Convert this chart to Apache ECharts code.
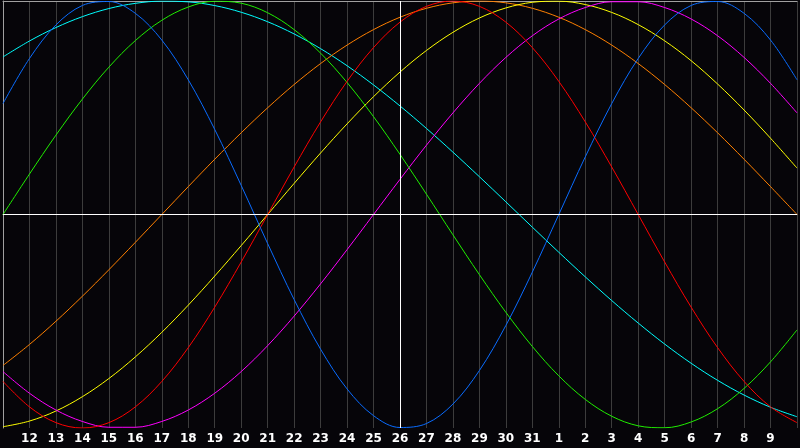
<!DOCTYPE html>
<html>
<head>
<meta charset="utf-8">
<title>biorhythm</title>
<script src="https://cdn.jsdelivr.net/npm/echarts@6/dist/echarts.min.js"></script>
<style>
	html, body { margin: 0; padding: 0; background: #060509; }
	#main { width: 800px; height: 448px; }
</style>
</head>
<body>
<div id="main"></div>
<script type="text/javascript">
// days on the axis (first and last are not labelled)
var days = ['11','12','13','14','15','16','17','18','19','20','21','22','23','24','25','26',
	'27','28','29','30','31','1','2','3','4','5','6','7','8','9','10'];
// today = 26
var todayIndex = 15;

// curves, one value per day
var blue23 = [0.5196,0.7308,0.8879,0.9791,0.9977,0.9423,0.8170,0.6310,0.3984,0.1362,-0.1362,-0.3984,
	-0.6310,-0.8170,-0.9423,-0.9977,-0.9791,-0.8879,-0.7308,-0.5196,-0.2698,0,0.2698,0.5196,0.7308,
	0.8879,0.9791,0.9977,0.9423,0.8170,0.6310];
var red28 = [-0.7818,-0.9010,-0.9749,-1,-0.9749,-0.9010,-0.7818,-0.6235,-0.4339,-0.2225,0,0.2225,
	0.4339,0.6235,0.7818,0.9010,0.9749,1,0.9749,0.9010,0.7818,0.6235,0.4339,0.2225,0,-0.2225,
	-0.4339,-0.6235,-0.7818,-0.9010,-0.9749];
var green33 = [0,0.1893,0.3717,0.5406,0.6901,0.8146,0.9096,0.9718,0.9989,0.9898,0.9450,0.8660,
	0.7557,0.6182,0.4582,0.2817,0.0951,-0.0951,-0.2817,-0.4582,-0.6182,-0.7557,-0.8660,-0.9450,
	-0.9898,-0.9989,-0.9718,-0.9096,-0.8146,-0.6901,-0.5406];
var magenta38 = [-0.7357,-0.8372,-0.9158,-0.9694,-0.9966,-0.9966,-0.9694,-0.9158,-0.8372,-0.7357,
	-0.6142,-0.4759,-0.3247,-0.1646,0,0.1646,0.3247,0.4759,0.6142,0.7357,0.8372,0.9158,0.9694,
	0.9966,0.9966,0.9694,0.9158,0.8372,0.7357,0.6142,0.4759];
var yellow43 = [-0.9940,-0.9675,-0.9204,-0.8533,-0.7683,-0.6671,-0.5519,-0.4245,-0.2881,-0.1456,0,
	0.1456,0.2881,0.4245,0.5519,0.6671,0.7683,0.8533,0.9204,0.9675,0.9940,0.9993,0.9834,0.9465,
	0.8894,0.8135,0.7204,0.6111,0.4894,0.3572,0.2174];
var orange48 = [-0.7071,-0.6088,-0.5,-0.3827,-0.2588,-0.1305,0,0.1305,0.2588,0.3827,0.5,0.6088,
	0.7071,0.7934,0.8660,0.9239,0.9659,0.9914,1,0.9914,0.9659,0.9239,0.8660,0.7934,0.7071,0.6088,
	0.5,0.3827,0.2588,0.1305,0];
var cyan53 = [0.7380,0.8126,0.8757,0.9267,0.9647,0.9890,0.9996,0.9961,0.9786,0.9473,0.9028,0.8457,
	0.7767,0.6968,0.6069,0.5084,0.4031,0.2920,0.1769,0.0593,-0.0593,-0.1769,-0.2920,-0.4031,
	-0.5084,-0.6069,-0.6968,-0.7767,-0.8457,-0.9028,-0.9473];

var curves = [
	{ data: cyan53, color: '#00ffff' },
	{ data: orange48, color: '#ff8000' },
	{ data: yellow43, color: '#ffff00' },
	{ data: magenta38, color: '#ff00ff' },
	{ data: green33, color: '#20ee00' },
	{ data: red28, color: '#ff0000' },
	{ data: blue23, color: '#0a6cff' }
];

var myChart = echarts.init(document.getElementById('main'));

var series = curves.map(function (c) {
	return {
		type: 'line',
		data: c.data,
		smooth: 0.35,
		symbol: 'none',
		silent: true,
		lineStyle: { color: c.color, width: 1 }
	};
});
// white cross: zero line and today
series[0].markLine = {
	silent: true,
	symbol: 'none',
	label: { show: false },
	lineStyle: { color: '#ffffff', width: 1, type: 'solid' },
	data: [{ yAxis: 0 }, { xAxis: todayIndex }]
};

var option = {
	backgroundColor: '#060509',
	animation: false,
	grid: { left: 0, right: 0, top: 1, bottom: 20 },
	xAxis: [{
		type: 'category',
		data: days,
		boundaryGap: false,
		axisLine: { lineStyle: { color: '#a0a0a0', width: 1 } },
		axisTick: { show: false },
		axisLabel: {
			interval: 0,
			color: '#ffffff',
			fontFamily: 'DejaVu Sans',
			fontWeight: 'bold',
			fontSize: 12,
			margin: 5,
			formatter: function (v, i) {
				return (i === 0 || i === days.length - 1) ? '' : v;
			}
		},
		splitLine: { show: true, lineStyle: { color: '#3c3c3c', width: 1 } }
	}, {
		type: 'category',
		data: days,
		position: 'top',
		boundaryGap: false,
		axisLine: { lineStyle: { color: '#a0a0a0', width: 1 } },
		axisTick: { show: false },
		axisLabel: { show: false }
	}],
	yAxis: {
		type: 'value',
		min: -1,
		max: 1,
		axisLine: { show: true, lineStyle: { color: '#a0a0a0', width: 1 } },
		axisTick: { show: false },
		axisLabel: { show: false },
		splitLine: { show: false }
	},
	series: series
};
myChart.setOption(option);
</script>
</body>
</html>
